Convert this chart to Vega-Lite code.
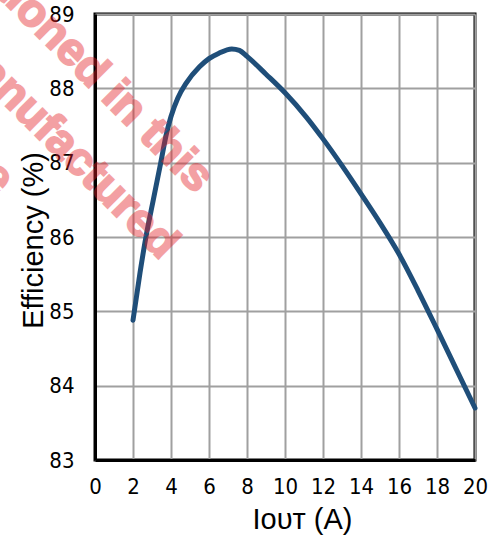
{
  "$schema": "https://vega.github.io/schema/vega-lite/v6.json",
  "width": 380,
  "height": 446,
  "autosize": "none",
  "padding": {"left": 95, "top": 14, "right": 28, "bottom": 75},
  "background": "white",
  "datasets": {
    "curve": [
      {"iout": 2.0, "eff": 84.88},
      {"iout": 2.37, "eff": 85.52},
      {"iout": 2.68, "eff": 86.0},
      {"iout": 3.07, "eff": 86.5},
      {"iout": 3.46, "eff": 87.0},
      {"iout": 3.77, "eff": 87.4},
      {"iout": 4.0, "eff": 87.62},
      {"iout": 4.36, "eff": 87.87},
      {"iout": 4.8, "eff": 88.07},
      {"iout": 5.5, "eff": 88.29},
      {"iout": 6.0, "eff": 88.4},
      {"iout": 6.5, "eff": 88.47},
      {"iout": 7.2, "eff": 88.53},
      {"iout": 7.6, "eff": 88.51},
      {"iout": 8.0, "eff": 88.43},
      {"iout": 9.0, "eff": 88.19},
      {"iout": 10.0, "eff": 87.94},
      {"iout": 11.1, "eff": 87.62},
      {"iout": 12.0, "eff": 87.32},
      {"iout": 13.0, "eff": 86.96},
      {"iout": 14.0, "eff": 86.58},
      {"iout": 15.0, "eff": 86.19},
      {"iout": 16.0, "eff": 85.77},
      {"iout": 17.0, "eff": 85.28},
      {"iout": 18.0, "eff": 84.76},
      {"iout": 19.0, "eff": 84.23},
      {"iout": 20.0, "eff": 83.7}
    ],
    "stamp": [
      {"iout": 5.3, "eff": 86.57, "label": "Product(s) mentioned in this"},
      {"iout": 3.45, "eff": 85.68, "label": "datasheet is not manufactured"},
      {"iout": -5.2, "eff": 86.55, "label": "and not available for purchase"}
    ]
  },
  "encoding": {
    "x": {
      "field": "iout",
      "type": "quantitative",
      "scale": {"domain": [0, 20], "nice": false, "zero": false},
      "axis": {
        "title": "Iᴏᴜᴛ (A)",
        "values": [0, 2, 4, 6, 8, 10, 12, 14, 16, 18, 20],
        "titleX": 207,
        "titleY": 68,
        "titleAlign": "center",
        "titleBaseline": "alphabetic",
        "labelPadding": 16
      }
    },
    "y": {
      "field": "eff",
      "type": "quantitative",
      "scale": {"domain": [83, 89], "nice": false, "zero": false},
      "axis": {
        "title": "Efficiency (%)",
        "values": [83, 84, 85, 86, 87, 88, 89],
        "titleX": -53,
        "titleY": 226,
        "titleAngle": -90,
        "titleAlign": "center",
        "titleBaseline": "alphabetic",
        "labelPadding": 21
      }
    }
  },
  "layer": [
    {
      "data": {"name": "curve"},
      "mark": {"type": "line", "color": "#1f4e79", "strokeWidth": 5, "interpolate": "monotone", "strokeCap": "round"}
    },
    {
      "data": {"name": "stamp"},
      "mark": {
        "type": "text",
        "angle": 45,
        "align": "right",
        "baseline": "alphabetic",
        "font": "Liberation Sans",
        "fontWeight": "bold",
        "fontSize": 46,
        "color": "#e41e26",
        "stroke": "#e41e26",
        "strokeWidth": 2,
        "opacity": 0.42
      },
      "encoding": {"text": {"field": "label"}}
    }
  ],
  "config": {
    "view": {"stroke": "black", "strokeWidth": 3},
    "axis": {
      "grid": true,
      "gridColor": "#a0a0a0",
      "gridWidth": 2,
      "domainColor": "black",
      "domainWidth": 3,
      "ticks": false,
      "labelFlush": false,
      "labelFont": "DejaVu Sans Condensed",
      "labelFontSize": 22,
      "labelColor": "black",
      "titleFont": "Liberation Sans",
      "titleFontSize": 29,
      "titleFontWeight": "normal",
      "titleColor": "black"
    }
  }
}
